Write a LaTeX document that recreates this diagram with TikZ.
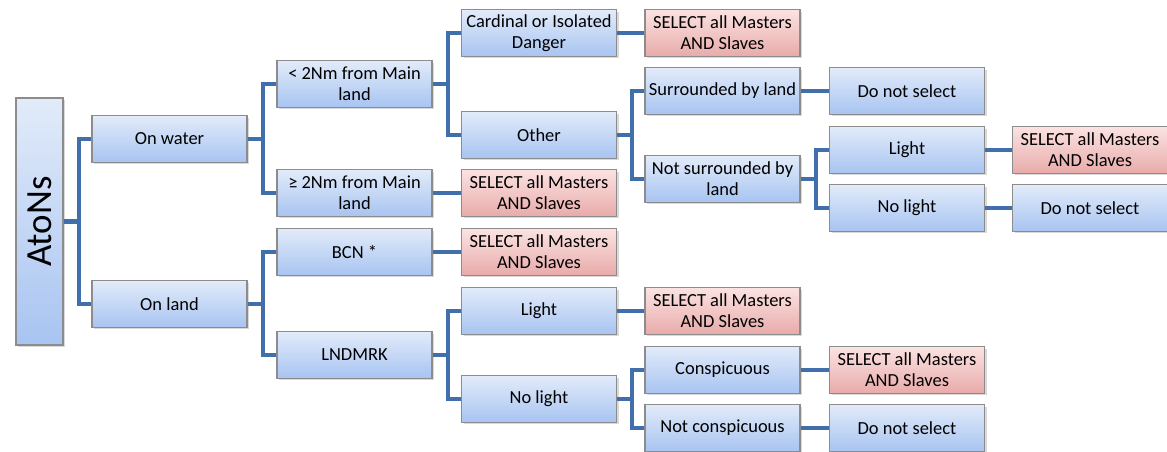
\documentclass[tikz,border=0pt]{standalone}
\usepackage{fontspec}
\setmainfont{Carlito}
\usetikzlibrary{shadows}

\definecolor{boxtop}{HTML}{E2EBFA}
\definecolor{boxbot}{HTML}{A8C4F1}
\definecolor{seltop}{HTML}{FBE3E2}
\definecolor{selbot}{HTML}{E8ABAA}
\definecolor{linkblue}{HTML}{416FAB}

\begin{document}
\begin{tikzpicture}[x=0.02cm, y=-0.02cm,
	box/.style={draw=black!45, line width=0.7pt, top color=boxtop, bottom color=boxbot,
		minimum width=3.1cm, minimum height=0.93cm, inner sep=1pt, align=center,
		font=\fontsize{10.5}{12}\selectfont,
		drop shadow={opacity=0.3, shadow xshift=1.2pt, shadow yshift=-1.2pt}},
	selbox/.style={box, top color=seltop, bottom color=selbot},
	link/.style={draw=linkblue, line width=2.3pt, line join=miter}]
	\useasboundingbox (0,0) rectangle (1167,452);

	\node[box, minimum width=0.94cm, minimum height=4.94cm] (atons) at (39.5,221.5)
		{\rotatebox{90}{\fontsize{21}{24}\selectfont AtoNs}};

	\node[box] (water) at (169.5,139) {On water};
	\node[box] (land) at (169.5,304) {On land};

	\node[box] (near) at (354.5,84) {< 2Nm from Main\\land};
	\node[box] (far) at (354.5,193) {≥ 2Nm from Main\\land};
	\node[box] (bcn) at (354.5,252) {BCN *};
	\node[box] (lndmrk) at (354.5,355) {LNDMRK};

	\node[box] (cardinal) at (539,33) {Cardinal or Isolated\\Danger};
	\node[box] (other) at (539,135) {Other};
	\node[selbox] (farsel) at (539,193) {SELECT all Masters\\AND Slaves};
	\node[selbox] (bcnsel) at (539,252) {SELECT all Masters\\AND Slaves};
	\node[box] (lmlight) at (539,311) {Light};
	\node[box] (lmdark) at (539,399) {No light};

	\node[selbox] (cardsel) at (722.5,33) {SELECT all Masters\\AND Slaves};
	\node[box] (surr) at (722.5,91) {Surrounded by land};
	\node[box] (open) at (722.5,179) {Not surrounded by\\land};
	\node[selbox] (lmlightsel) at (722.5,311) {SELECT all Masters\\AND Slaves};
	\node[box] (consp) at (722.5,370) {Conspicuous};
	\node[box] (plain) at (722.5,428) {Not conspicuous};

	\node[box] (surrno) at (907,91) {Do not select};
	\node[box] (light) at (907,150) {Light};
	\node[box] (dark) at (907,208) {No light};
	\node[selbox] (conspsel) at (907,370) {SELECT all Masters\\AND Slaves};
	\node[box] (plainno) at (907,428) {Do not select};

	\node[selbox] (lightsel) at (1090,150) {SELECT all Masters\\AND Slaves};
	\node[box] (darkno) at (1090,208) {Do not select};

	\foreach \p/\c in {atons/water, atons/land,
			water/near, water/far, land/bcn, land/lndmrk,
			near/cardinal, near/other, lndmrk/lmlight, lndmrk/lmdark,
			other/surr, other/open, lmdark/consp, lmdark/plain,
			open/light, open/dark} {
		\draw[link] (\p.east) -- ++(15,0) |- (\c.west);
	}
	\foreach \p/\c in {far/farsel, bcn/bcnsel, cardinal/cardsel, lmlight/lmlightsel,
			surr/surrno, consp/conspsel, plain/plainno, light/lightsel, dark/darkno} {
		\draw[link] (\p.east) -- (\c.west);
	}
\end{tikzpicture}
\end{document}
